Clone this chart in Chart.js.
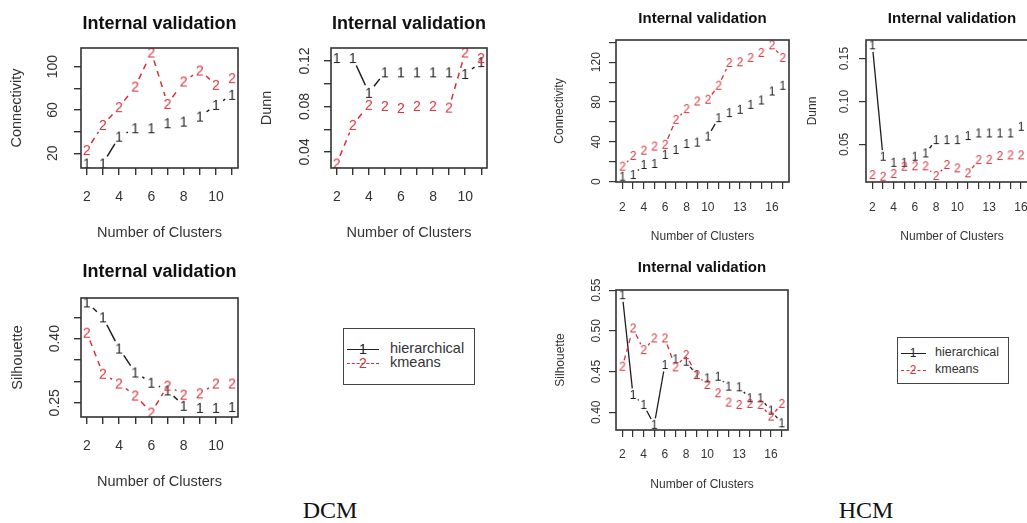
<!DOCTYPE html>
<html>
<head>
<meta charset="utf-8">
<script src="https://cdn.jsdelivr.net/npm/chart.js@4.4.1/dist/chart.umd.min.js"></script>
<style>
  html, body { margin:0; padding:0; background:#fff; }
  body { width:1027px; height:523px; overflow:hidden; position:relative; font-family:"Liberation Sans", Arial, sans-serif; }
  canvas { position:absolute; }
  .legend { position:absolute; border:1.5px solid #444; background:#fff; box-sizing:border-box; }
  .legend .ln { position:absolute; height:0; }
  .legend .gl { position:absolute; text-align:center; }
  .legend .tx { position:absolute; color:#333; white-space:nowrap; }
  .cap { position:absolute; font-family:"Liberation Serif", "Times New Roman", serif; font-size:24px; color:#111; line-height:28px; transform:translateX(-50%); }
</style>
</head>
<body>
<canvas id="dcmConn" width="250" height="250" style="left:0px;top:0px"></canvas>
<canvas id="dcmDunn" width="265" height="250" style="left:250px;top:0px"></canvas>
<canvas id="hcmConn" width="265" height="250" style="left:530px;top:0px"></canvas>
<canvas id="hcmDunn" width="270" height="250" style="left:780px;top:0px"></canvas>
<canvas id="dcmSil" width="250" height="273" style="left:0px;top:250px"></canvas>
<canvas id="hcmSil" width="265" height="273" style="left:530px;top:250px"></canvas>

<div class="legend" style="left:343px;top:328px;width:132px;height:57px;">
  <div class="ln" style="left:3px;top:20px;width:32px;border-top:1.5px solid #222"></div>
  <div class="gl" style="left:12px;top:12px;width:14px;font-size:14px;line-height:16px;color:#222">1</div>
  <div class="tx" style="left:46px;top:11px;font-size:14.5px;line-height:17px">hierarchical</div>
  <div class="ln" style="left:3px;top:34px;width:32px;border-top:1.5px dashed #D9303A"></div>
  <div class="gl" style="left:12px;top:26px;width:14px;font-size:14px;line-height:16px;color:#D9303A">2</div>
  <div class="tx" style="left:46px;top:25px;font-size:14.5px;line-height:17px">kmeans</div>
</div>

<div class="legend" style="left:897px;top:337px;width:112px;height:47px;">
  <div class="ln" style="left:3px;top:15px;width:25px;border-top:1.2px solid #222"></div>
  <div class="gl" style="left:9px;top:8px;width:12px;font-size:12px;line-height:14px;color:#222">1</div>
  <div class="tx" style="left:37px;top:7px;font-size:12.5px;line-height:15px">hierarchical</div>
  <div class="ln" style="left:3px;top:32px;width:25px;border-top:1.2px dashed #D9303A"></div>
  <div class="gl" style="left:9px;top:25px;width:12px;font-size:12px;line-height:14px;color:#D9303A">2</div>
  <div class="tx" style="left:37px;top:24px;font-size:12.5px;line-height:15px">kmeans</div>
</div>

<div class="cap" style="left:330px;top:496px;">DCM</div>
<div class="cap" style="left:866px;top:496px;">HCM</div>

<script>
// ---------------- data ----------------
const dcmClusters = [2, 3, 4, 5, 6, 7, 8, 9, 10, 11];
const hcmClusters = [2, 3, 4, 5, 6, 7, 8, 9, 10, 11, 12, 13, 14, 15, 16, 17];
const dcmXTickLabels = [2, 4, 6, 8, 10];
const hcmXTickLabels = [2, 4, 6, 8, 10, 13, 16];

const dcmConnHier   = [10.5, 10.5, 35.3, 43.1, 43.1, 47.7, 49.2, 53.8, 64.6, 73.9];
const dcmConnKmeans = [23.0, 46.1, 62.5, 81.5, 113.0, 65.5, 86.2, 96.3, 83.1, 89.3];
const dcmConnYTicks  = [20, 40, 60, 80, 100];
const dcmConnYLabels = [20, 60, 100];

const dcmDunnHier   = [0.1226, 0.1226, 0.092, 0.110, 0.110, 0.110, 0.110, 0.110, 0.1086, 0.119];
const dcmDunnKmeans = [0.0298, 0.0638, 0.0814, 0.0805, 0.0787, 0.0805, 0.0805, 0.079, 0.1275, 0.1226];
const dcmDunnYTicks  = [0.04, 0.06, 0.08, 0.10, 0.12];
const dcmDunnYLabels = [0.04, 0.08, 0.12];

const dcmSilHier   = [0.485, 0.450, 0.377, 0.321, 0.297, 0.279, 0.243, 0.238, 0.238, 0.240];
const dcmSilKmeans = [0.414, 0.318, 0.295, 0.267, 0.227, 0.290, 0.269, 0.272, 0.295, 0.295];
const dcmSilYTicks  = [0.25, 0.30, 0.35, 0.40, 0.45];
const dcmSilYLabels = [0.25, 0.40];

const hcmConnHier   = [5.0, 6.7, 16.8, 17.8, 26.9, 31.9, 37.9, 39.3, 45.3, 63.8, 68.9, 72.2, 77.2, 81.6, 90.6, 96.3];
const hcmConnKmeans = [15.1, 25.9, 31.2, 35.3, 37.0, 62.1, 72.9, 80.6, 82.3, 96.4, 119.2, 119.9, 124.3, 129.3, 137.0, 124.3];
const hcmConnYTicks  = [0, 20, 40, 60, 80, 100, 120, 140];
const hcmConnYLabels = [0, 40, 80, 120];

const hcmDunnHier   = [0.1655, 0.0356, 0.0286, 0.0286, 0.0356, 0.0395, 0.055, 0.055, 0.055, 0.0597, 0.0628, 0.0628, 0.0628, 0.0628, 0.0705, 0.072];
const hcmDunnKmeans = [0.0143, 0.0123, 0.0155, 0.024, 0.0245, 0.0245, 0.0131, 0.026, 0.0221, 0.0163, 0.0317, 0.032, 0.0364, 0.0372, 0.0372, 0.038];
const hcmDunnYTicks  = [0.05, 0.10, 0.15];
const hcmDunnYLabels = [0.05, 0.10, 0.15];

const hcmSilHier   = [0.5438, 0.4212, 0.409, 0.3845, 0.458, 0.465, 0.462, 0.4457, 0.4416, 0.4436, 0.4314, 0.4306, 0.4172, 0.4172, 0.402, 0.3864];
const hcmSilKmeans = [0.4559, 0.503, 0.4763, 0.4907, 0.4907, 0.4551, 0.4702, 0.4457, 0.4335, 0.4233, 0.4118, 0.409, 0.4102, 0.409, 0.3946, 0.4102];
const hcmSilYTicks  = [0.40, 0.45, 0.50, 0.55];
const hcmSilYLabels = [0.40, 0.45, 0.50, 0.55];

// ---------------- rendering ----------------
const INK = '#1e1e1e';
const RED = '#D9303A';
const FAMILY = '"Liberation Sans", Arial, Helvetica, sans-serif';
Chart.defaults.font.family = FAMILY;
Chart.defaults.color = '#333';

function rRange(arrs) {
  const all = [].concat(...arrs);
  const lo = Math.min(...all), hi = Math.max(...all);
  const d = (hi - lo) * 0.04;
  return [lo - d, hi + d];
}

function glyph(ch, color, px) {
  const c = document.createElement('canvas');
  c.width = Math.ceil(px * 0.8) + 2;
  c.height = Math.ceil(px * 1.1);
  const g = c.getContext('2d');
  g.font = px + 'px ' + FAMILY;
  g.fillStyle = color;
  g.textAlign = 'center';
  g.textBaseline = 'middle';
  g.fillText(ch, c.width / 2, c.height / 2 + px * 0.06);
  return c;
}

const gapLines = {
  id: 'gapLines',
  beforeDatasetsDraw(chart) {
    const ctx = chart.ctx;
    chart.data.datasets.forEach((ds, i) => {
      const pts = chart.getDatasetMeta(i).data;
      ctx.save();
      ctx.strokeStyle = ds.lineColor;
      ctx.lineWidth = ds.lw;
      ctx.setLineDash(ds.dash);
      for (let k = 0; k < pts.length - 1; k++) {
        const a = pts[k], b = pts[k + 1];
        const dx = b.x - a.x, dy = b.y - a.y;
        const L = Math.hypot(dx, dy);
        const g = ds.gap;
        if (L <= 2 * g + 1) continue;
        const ux = dx / L, uy = dy / L;
        ctx.beginPath();
        ctx.moveTo(a.x + ux * g, a.y + uy * g);
        ctx.lineTo(b.x - ux * g, b.y - uy * g);
        ctx.stroke();
      }
      ctx.restore();
    });
  }
};

const rBox = {
  id: 'rBox',
  afterDatasetsDraw(chart) {
    const { ctx, chartArea: a } = chart;
    ctx.save();
    ctx.strokeStyle = '#333';
    ctx.lineWidth = 1.6;
    ctx.strokeRect(Math.round(a.left), Math.round(a.top), Math.round(a.right - a.left), Math.round(a.bottom - a.top));
    ctx.restore();
  }
};

function makePanel(id, p) {
  const canvas = document.getElementById(id);
  const H = canvas.height;
  const [xmin, xmax] = rRange([p.x]);
  const [ymin, ymax] = rRange([p.hier, p.km]);
  const g1 = glyph('1', INK, p.glyph), g2 = glyph('2', RED, p.glyph);
  const grid = { drawOnChartArea: false, drawTicks: true, tickLength: p.tl, color: '#333', lineWidth: p.tickLw };
  return new Chart(canvas, {
    type: 'scatter',
    data: {
      datasets: [
        { label: 'hierarchical', data: p.x.map((v, i) => ({ x: v, y: p.hier[i] })), pointStyle: g1, pointRadius: 3,
          lineColor: INK, dash: [], gap: p.gap, lw: p.lw, order: 1 },
        { label: 'kmeans', data: p.x.map((v, i) => ({ x: v, y: p.km[i] })), pointStyle: g2, pointRadius: 3,
          lineColor: RED, dash: p.dash, gap: p.gap, lw: p.lw, order: 0 }
      ]
    },
    options: {
      responsive: false, animation: false, events: [],
      layout: { padding: { left: 0, top: 0, bottom: 0, right: p.padRight } },
      plugins: {
        legend: { display: false }, tooltip: { enabled: false },
        title: { display: true, text: 'Internal validation', fullSize: false, color: '#111',
          font: { size: p.titleSize, weight: 'bold', lineHeight: 1.2 }, padding: { top: p.titleTop, bottom: p.titleBottom } }
      },
      scales: {
        x: {
          type: 'linear', position: 'bottom', min: xmin, max: xmax,
          afterBuildTicks: s => { s.ticks = p.x.map(v => ({ value: v })); },
          afterFit: s => { s.height = H - p.boxBottom; },
          ticks: { autoSkip: false, minRotation: 0, maxRotation: 0, padding: p.xTickPad, color: '#333',
            font: { size: p.tickSize }, callback: v => p.xLabels.includes(v) ? String(v) : '' },
          grid: grid, border: { display: false },
          title: { display: true, text: 'Number of Clusters', color: '#333', font: { size: p.axisSize, lineHeight: 1.2 },
            padding: { top: 0, bottom: p.xTitlePad } }
        },
        y: {
          type: 'linear', position: 'left', min: ymin, max: ymax,
          afterBuildTicks: s => { s.ticks = p.yTicks.map(v => ({ value: v })); },
          afterFit: s => { s.width = p.boxLeft; },
          ticks: { autoSkip: false, minRotation: 90, maxRotation: 90, crossAlign: 'center', padding: p.yTickPad,
            color: '#333', font: { size: p.tickSize }, callback: v => p.yLabels.includes(v) ? p.fmt(v) : '' },
          grid: grid, border: { display: false },
          title: { display: true, text: p.yTitle, color: '#333', font: { size: p.axisSize, lineHeight: 1.2 },
            padding: { top: p.yTitlePad, bottom: 0 } }
        }
      }
    },
    plugins: [gapLines, rBox]
  });
}

const dcmStyle = { titleSize: 18, tickSize: 14, axisSize: 14.5, tl: 7, tickLw: 1.4, glyph: 14, gap: 8.3, lw: 1.5, dash: [6, 5] };
const hcmStyle = { titleSize: 15, tickSize: 12, axisSize: 12, tl: 7, tickLw: 1.2, glyph: 12, gap: 6.6, lw: 1.3, dash: [5, 4] };
const int = v => String(v);
const dec2 = v => v.toFixed(2);

makePanel('dcmConn', Object.assign({}, dcmStyle, {
  x: dcmClusters, hier: dcmConnHier, km: dcmConnKmeans, xLabels: dcmXTickLabels,
  yTicks: dcmConnYTicks, yLabels: dcmConnYLabels, fmt: int, yTitle: 'Connectivity',
  boxLeft: 81, padRight: 12, boxBottom: 168, titleTop: 13.2, titleBottom: 13.2,
  xTickPad: 14, xTitlePad: 8.3, yTickPad: 9.3, yTitlePad: 8.3 }));

makePanel('dcmDunn', Object.assign({}, dcmStyle, {
  x: dcmClusters, hier: dcmDunnHier, km: dcmDunnKmeans, xLabels: dcmXTickLabels,
  yTicks: dcmDunnYTicks, yLabels: dcmDunnYLabels, fmt: dec2, yTitle: 'Dunn',
  boxLeft: 81, padRight: 28, boxBottom: 168, titleTop: 13.2, titleBottom: 13.2,
  xTickPad: 14, xTitlePad: 8.3, yTickPad: 5.4, yTitlePad: 8.3 }));

makePanel('dcmSil', Object.assign({}, dcmStyle, {
  x: dcmClusters, hier: dcmSilHier, km: dcmSilKmeans, xLabels: dcmXTickLabels,
  yTicks: dcmSilYTicks, yLabels: dcmSilYLabels, fmt: dec2, yTitle: 'Silhouette',
  boxLeft: 81, padRight: 12, boxBottom: 167, titleTop: 10.9, titleBottom: 15.5,
  xTickPad: 13.5, xTitlePad: 32.3, yTickPad: 5.4, yTitlePad: 9.3 }));

makePanel('hcmConn', Object.assign({}, hcmStyle, {
  x: hcmClusters, hier: hcmConnHier, km: hcmConnKmeans, xLabels: hcmXTickLabels,
  yTicks: hcmConnYTicks, yLabels: hcmConnYLabels, fmt: int, yTitle: 'Connectivity',
  boxLeft: 86, padRight: 6, boxBottom: 182, titleTop: 10, titleBottom: 12,
  xTickPad: 11, xTitlePad: 5.8, yTickPad: 2, yTitlePad: 22.8 }));

makePanel('hcmDunn', Object.assign({}, hcmStyle, {
  x: hcmClusters, hier: hcmDunnHier, km: hcmDunnKmeans, xLabels: hcmXTickLabels,
  yTicks: hcmDunnYTicks, yLabels: hcmDunnYLabels, fmt: dec2, yTitle: 'Dunn',
  boxLeft: 86, padRight: 12, boxBottom: 182, titleTop: 10, titleBottom: 12,
  xTickPad: 11, xTitlePad: 5.8, yTickPad: 2.3, yTitlePad: 25.8 }));

makePanel('hcmSil', Object.assign({}, hcmStyle, {
  x: hcmClusters, hier: hcmSilHier, km: hcmSilKmeans, xLabels: hcmXTickLabels,
  yTicks: hcmSilYTicks, yLabels: hcmSilYLabels, fmt: dec2, yTitle: 'Silhouette',
  boxLeft: 86, padRight: 7, boxBottom: 180, titleTop: 9, titleBottom: 13,
  xTickPad: 10.4, xTitlePad: 30.8, yTickPad: 0.3, yTitlePad: 23.8 }));
</script>
</body>
</html>
